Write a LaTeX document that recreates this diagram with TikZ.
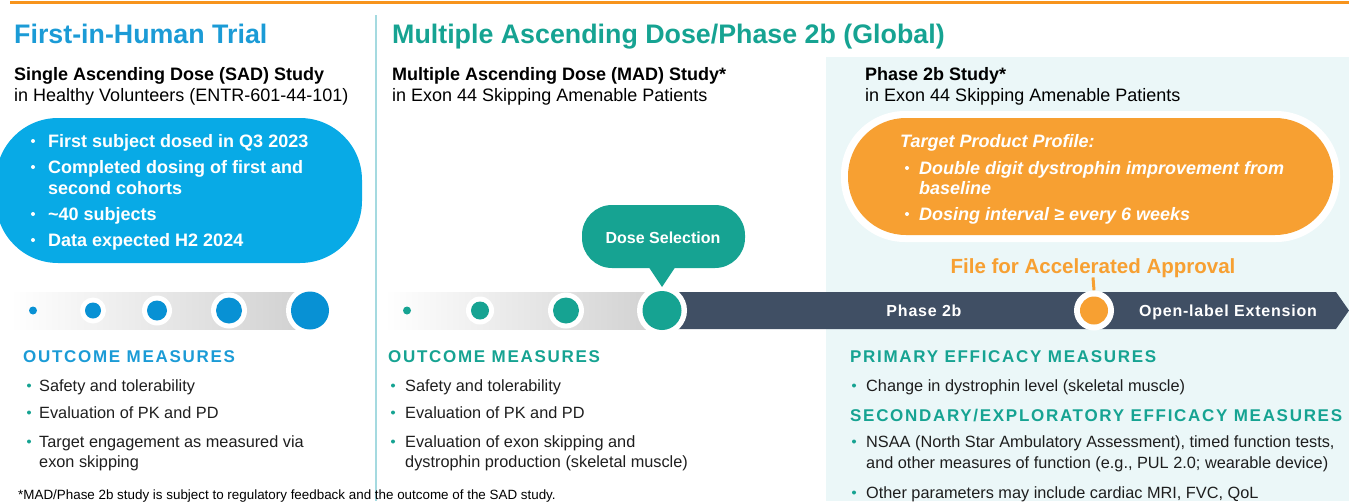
\documentclass[tikz,border=0pt]{standalone}
\usepackage{fontspec}
\setmainfont{Liberation Sans}
\newfontfamily\spacedfont[LetterSpace=10]{Liberation Sans}
\newfontfamily\barfont[LetterSpace=5]{Liberation Sans}

\definecolor{accent}{RGB}{247,148,29}
\definecolor{fihblue}{RGB}{27,155,214}
\definecolor{pillblue}{RGB}{8,170,230}
\definecolor{dotblue}{RGB}{8,145,212}
\definecolor{madteal}{RGB}{22,163,146}
\definecolor{slate}{RGB}{64,79,100}
\definecolor{tpporange}{RGB}{247,160,50}
\definecolor{panelbg}{RGB}{235,247,248}
\definecolor{divider}{RGB}{165,218,224}
\definecolor{barfade}{RGB}{208,208,208}
\definecolor{bodytext}{RGB}{30,30,30}

\begin{document}
\begin{tikzpicture}[x=1pt,y=-1pt,
    txt/.style={anchor=base west, inner sep=0pt, text=bodytext, font=\fontsize{16.3}{19}\selectfont},
    sub/.style={txt, text=black, font=\fontsize{18}{21}\selectfont},
    head/.style={txt, font=\fontsize{26.8}{30}\selectfont\bfseries},
    measure/.style={txt, text=madteal, font=\spacedfont\fontsize{17}{20}\selectfont\bfseries},
    inpill/.style={txt, text=white, font=\fontsize{18}{21}\selectfont\bfseries},
    bul/.style={circle, inner sep=0pt, minimum size=4pt, fill=#1},
    bul/.default=madteal,
    ring/.style={circle, inner sep=0pt, fill=white, minimum size=#1},
    stop/.style 2 args={circle, inner sep=0pt, fill=#1, minimum size=#2}]

  \useasboundingbox (0,0) rectangle (1349,501);

  % frame: top rule, divider, phase 2b panel
  \fill[panelbg] (826,57) rectangle (1349,501);
  \draw[accent, line width=3pt] (10,2) -- (1349,2);
  \draw[divider, line width=2pt] (376,15) -- (376,501);

  % headings
  \node[head, text=fihblue] (fihtitle) at (14,43) {First-in-Human Trial};
  \node[head, text=madteal] (madtitle) at (392,43) {Multiple Ascending Dose/Phase 2b (Global)};

  \node[sub, font=\fontsize{18}{21}\selectfont\bfseries] (sadname) at (14,80) {Single Ascending Dose (SAD) Study};
  \node[sub] (sadpop) at (14,101) {in Healthy Volunteers (ENTR-601-44-101)};
  \node[sub, font=\fontsize{18}{21}\selectfont\bfseries] (madname) at (392,80) {Multiple Ascending Dose (MAD) Study*};
  \node[sub] (madpop) at (392,101) {in Exon 44 Skipping Amenable Patients};
  \node[sub, font=\fontsize{18}{21}\selectfont\bfseries] (p2bname) at (865,80) {Phase 2b Study*};
  \node[sub] (p2bpop) at (865,101) {in Exon 44 Skipping Amenable Patients};

  % SAD status pill
  \fill[pillblue, rounded corners=62pt] (-4,118) rectangle (362,263);
  \foreach \yy/\txt [count=\i] in {147/First subject dosed in Q3 2023,173/Completed dosing of first and,220/\textasciitilde40 subjects,246/Data expected H2 2024}
    {
      \node[bul=white] (sadbul\i) at (33,\yy-6) {};
      \node[inpill] (sadtxt\i) at (48,\yy) {\txt};
    }
  \node[inpill] (sadtxt2b) at (48,194) {second cohorts};

  % target product profile pill
  \fill[white, rounded corners=64pt] (841,111) rectangle (1340,242);
  \fill[tpporange, rounded corners=58pt] (848,118) rectangle (1333,235);
  \node[inpill, font=\fontsize{18}{21}\selectfont\bfseries\itshape] (tpp) at (900,147) {Target Product Profile:};
  \node[bul=white] (tppbul1) at (907,168) {};
  \node[inpill, font=\fontsize{18}{21}\selectfont\bfseries\itshape] (tpptxt1) at (919,174) {Double digit dystrophin improvement from};
  \node[inpill, font=\fontsize{18}{21}\selectfont\bfseries\itshape] (tpptxt1b) at (919,194) {baseline};
  \node[bul=white] (tppbul2) at (907,214) {};
  \node[inpill, font=\fontsize{18}{21}\selectfont\bfseries\itshape] (tpptxt2) at (919,220) {Dosing interval ≥ every 6 weeks};

  % timelines
  \shade[left color=white, right color=barfade] (10,292) rectangle (310,329);
  \shade[left color=white, right color=barfade] (385,292) rectangle (662,329);
  \fill[slate] (662,292) -- (1336,292) -- (1349,310.5) -- (1336,329) -- (662,329) -- cycle;

  \foreach \xx/\rr/\ww [count=\i] in {33/8/9,93/16/26,157/20/30,229/26/36,310/38/48}
    {
      \node[ring=\ww] (sadring\i) at (\xx,310.5) {};
      \node[stop={dotblue}{\rr}] (sadstop\i) at (\xx,310.5) {};
    }
  \foreach \xx/\rr/\ww [count=\i] in {407/8/9,480/18/28,566/26/36,662/39/50}
    {
      \node[ring=\ww] (madring\i) at (\xx,310.5) {};
      \node[stop={madteal}{\rr}] (madstop\i) at (\xx,310.5) {};
    }

  \node[txt, anchor=base, text=white, font=\barfont\fontsize{16}{19}\selectfont\bfseries] (phase2b) at (924,316) {Phase 2b};
  \node[txt, anchor=base, text=white, font=\barfont\fontsize{16}{19}\selectfont\bfseries] (ole) at (1228,316) {Open-label Extension};

  % dose selection callout
  \fill[madteal, rounded corners=30pt] (582,205) rectangle (745,268);
  \fill[madteal] (648,266) -- (676,266) -- (662,287) -- cycle;
  \node[txt, anchor=base, text=white, font=\fontsize{16}{19}\selectfont\bfseries] (dosesel) at (663,243) {Dose Selection};

  % accelerated approval milestone
  \node[txt, anchor=base, text=tpporange, font=\fontsize{20.5}{24}\selectfont\bfseries] (aafile) at (1093,273) {File for Accelerated Approval};
  \node[ring=40] (aaring) at (1094,310.5) {};
  \node[stop={tpporange}{28}] (aastop) at (aaring) {};
  \draw[tpporange, line width=3pt] (aafile.south) -- (aaring.north);

  % outcome measures
  \node[measure, text=fihblue] (sadmeas) at (23,362) {OUTCOME MEASURES};
  \foreach \yy/\txt [count=\i] in {391/Safety and tolerability,418/Evaluation of PK and PD,447/Target engagement as measured via}
    {
      \node[bul] (sadmbul\i) at (29,\yy-5.5) {};
      \node[txt] (sadmtxt\i) at (39,\yy) {\txt};
    }
  \node[txt] (sadmtxt3b) at (39,467) {exon skipping};

  \node[measure] (madmeas) at (388,362) {OUTCOME MEASURES};
  \foreach \yy/\txt [count=\i] in {391/Safety and tolerability,418/Evaluation of PK and PD,447/Evaluation of exon skipping and}
    {
      \node[bul] (madmbul\i) at (393,\yy-5.5) {};
      \node[txt] (madmtxt\i) at (405,\yy) {\txt};
    }
  \node[txt] (madmtxt3b) at (405,467) {dystrophin production (skeletal muscle)};

  \node[measure] (primmeas) at (850,362) {PRIMARY EFFICACY MEASURES};
  \node[bul] (primbul) at (854,385.5) {};
  \node[txt] (primtxt) at (866,391) {Change in dystrophin level (skeletal muscle)};
  \node[measure] (secmeas) at (850,421) {SECONDARY/EXPLORATORY EFFICACY MEASURES};
  \node[bul] (secbul1) at (854,441.5) {};
  \node[txt] (sectxt1) at (866,447) {NSAA (North Star Ambulatory Assessment), timed function tests,};
  \node[txt] (sectxt1b) at (866,468) {and other measures of function (e.g., PUL 2.0; wearable device)};
  \node[bul] (secbul2) at (854,492.5) {};
  \node[txt] (sectxt2) at (866,498) {Other parameters may include cardiac MRI, FVC, QoL};

  % footnote
  \node[txt, text=black, font=\fontsize{13.4}{16}\selectfont] (footnote) at (18,499) {*MAD/Phase 2b study is subject to regulatory feedback and the outcome of the SAD study.};
\end{tikzpicture}
\end{document}
